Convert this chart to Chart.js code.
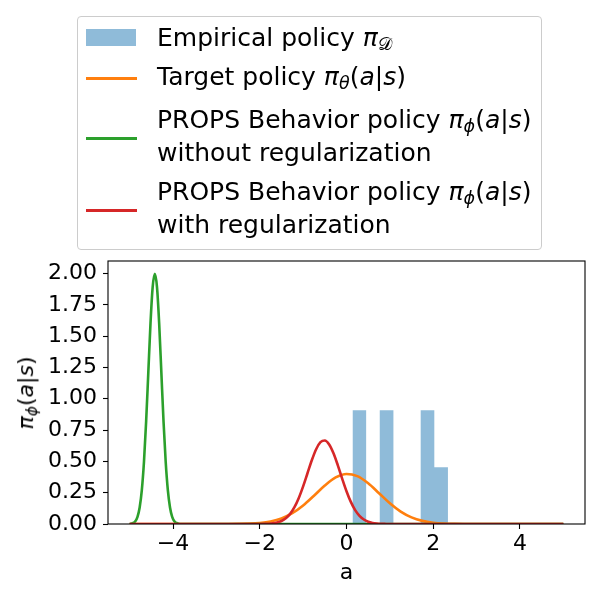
<!DOCTYPE html>
<html>
<head>
<meta charset="utf-8">
<script src="https://cdn.jsdelivr.net/npm/chart.js@4.4.1/dist/chart.umd.min.js"></script>
<style>
html,body{margin:0;padding:0;background:#fff;}
#wrap{position:relative;width:600px;height:600px;font-family:'DejaVu Sans',sans-serif;color:#000;}
#c{position:absolute;left:0;top:0;}
.legbox{position:absolute;left:76.5px;top:15.5px;width:465px;height:234px;border:1px solid #cccccc;border-radius:4px;box-sizing:border-box;background:rgba(255,255,255,0.8);}
.t{position:absolute;left:157px;font-size:25px;line-height:30px;white-space:nowrap;}
.m{font-style:italic;}
.sub{font-size:70%;vertical-align:-0.25em;}
.patch{position:absolute;left:86px;top:29px;width:50px;height:17px;background:#8fbbd9;}
.hl{position:absolute;left:86px;width:51px;height:3px;}
#ytitle{position:absolute;left:29px;top:392.5px;transform:translate(-50%,-50%) rotate(-90deg);font-size:22px;line-height:26px;white-space:nowrap;}
</style>
</head>
<body>
<div id="wrap">
<canvas id="c" width="600" height="600"></canvas>
<div class="legbox"></div>
<div class="patch"></div>
<div class="hl" style="top:76.8px;background:#ff7f0e;"></div>
<div class="hl" style="top:136.8px;background:#2ca02c;"></div>
<div class="hl" style="top:208.8px;background:#d62728;"></div>
<div class="t" style="top:23.0px;">Empirical policy <span class="m">π</span><span class="sub">𝒟</span></div>
<div class="t" style="top:62.4px;">Target policy <span class="m">π</span><span class="sub m">θ</span>(<span class="m">a</span>|<span class="m">s</span>)</div>
<div class="t" style="top:105.0px;">PROPS Behavior policy <span class="m">π</span><span class="sub m">ϕ</span>(<span class="m">a</span>|<span class="m">s</span>)</div>
<div class="t" style="top:138.4px;">without regularization</div>
<div class="t" style="top:177.4px;">PROPS Behavior policy <span class="m">π</span><span class="sub m">ϕ</span>(<span class="m">a</span>|<span class="m">s</span>)</div>
<div class="t" style="top:210.2px;">with regularization</div>
<div id="ytitle"><span class="m">π</span><span class="sub m">ϕ</span>(<span class="m">a</span>|<span class="m">s</span>)</div>
</div>
<script>
// Empirical policy histogram (density): bin edges and bar heights
const histEdges = [0.138, 0.453, 0.767, 1.082, 1.396, 1.711, 2.025, 2.340];
const histDensity = [0.908, 0, 0.908, 0, 0, 0.908, 0.454];

// Target policy curve
const targetX = [-5, -3.5, -3, -2.75, -2.5, -2.25, -2, -1.75, -1.5, -1.25, -1, -0.75, -0.5, -0.25, 0, 0.25, 0.5, 0.75, 1, 1.25, 1.5, 1.75, 2, 2.25, 2.5, 2.75, 3, 3.5, 5];
const targetY = [0, 0, 0.0001, 0.0003, 0.0010, 0.0030, 0.0084, 0.0205, 0.0445, 0.0860, 0.1478, 0.2260, 0.3073, 0.3716, 0.3997, 0.3822, 0.3251, 0.2459, 0.1654, 0.0990, 0.0527, 0.0249, 0.0105, 0.0039, 0.0013, 0.0004, 0.0001, 0, 0];

// PROPS behavior policy without regularization
const noRegX = [-5, -4.97, -4.92, -4.87, -4.82, -4.77, -4.72, -4.67, -4.62, -4.57, -4.52, -4.47, -4.42, -4.37, -4.32, -4.27, -4.22, -4.17, -4.12, -4.07, -4.02, -3.97, -3.92, -3.87, -3.8, 5];
const noRegY = [0, 0.002, 0.008, 0.022, 0.057, 0.132, 0.271, 0.499, 0.822, 1.213, 1.602, 1.892, 1.998, 1.892, 1.602, 1.213, 0.822, 0.499, 0.271, 0.132, 0.057, 0.022, 0.008, 0.002, 0, 0];

// PROPS behavior policy with regularization
const regX = [-5, -2.0, -1.9, -1.8, -1.7, -1.6, -1.5, -1.4, -1.3, -1.2, -1.1, -1.0, -0.9, -0.8, -0.7, -0.6, -0.5, -0.4, -0.3, -0.2, -0.1, 0.0, 0.1, 0.2, 0.3, 0.4, 0.5, 0.6, 0.7, 0.8, 0.9, 1.0, 5];
const regY = [0, 0.0003, 0.0009, 0.0023, 0.0054, 0.0118, 0.0240, 0.0457, 0.0812, 0.1347, 0.2084, 0.3008, 0.4052, 0.5092, 0.5971, 0.6534, 0.6671, 0.6356, 0.5649, 0.4685, 0.3627, 0.2619, 0.1765, 0.1110, 0.0651, 0.0356, 0.0182, 0.0087, 0.0039, 0.0016, 0.0006, 0.0002, 0];

// Tick values
const xTicks = [-4, -2, 0, 2, 4];
const yTicks = [0, 0.25, 0.5, 0.75, 1.0, 1.25, 1.5, 1.75, 2.0];

const pts = (xs, ys) => xs.map((x, i) => ({x: x, y: ys[i]}));
const histPts = histDensity.map((h, i) => ({x: histEdges[i], y: h}));
histPts.push({x: histEdges[histEdges.length - 1], y: 0});

const frame = {
  id: 'frame',
  afterDraw(chart) {
    const a = chart.chartArea, ctx = chart.ctx;
    ctx.save();
    ctx.strokeStyle = '#000';
    ctx.lineWidth = 1.1;
    ctx.strokeRect(a.left, a.top, a.right - a.left, a.bottom - a.top);
    ctx.restore();
  }
};

const tickFont = {family: 'DejaVu Sans', size: 22};
const lineCommon = {showLine: true, pointRadius: 0, borderWidth: 2.6, fill: false, cubicInterpolationMode: 'monotone'};

new Chart(document.getElementById('c'), {
  type: 'scatter',
  data: {
    datasets: [
      Object.assign({label: 'PROPS Behavior policy with regularization', data: pts(regX, regY), borderColor: '#d62728', order: 0}, lineCommon),
      Object.assign({label: 'PROPS Behavior policy without regularization', data: pts(noRegX, noRegY), borderColor: '#2ca02c', order: 1}, lineCommon),
      Object.assign({label: 'Target policy', data: pts(targetX, targetY), borderColor: '#ff7f0e', order: 2}, lineCommon),
      {label: 'Empirical policy', data: histPts, showLine: true, stepped: 'before', pointRadius: 0, borderWidth: 0,
       borderColor: 'rgba(0,0,0,0)', backgroundColor: 'rgba(31,119,180,0.5)', fill: 'origin', order: 3}
    ]
  },
  options: {
    responsive: false,
    animation: false,
    layout: {padding: {top: 261, right: 15, left: 0, bottom: 0}},
    plugins: {legend: {display: false}, tooltip: {enabled: false}},
    scales: {
      x: {
        type: 'linear', min: -5.5, max: 5.5,
        afterBuildTicks: s => { s.ticks = xTicks.map(v => ({value: v})); },
        afterFit: s => { s.height = 76; },
        border: {display: false},
        grid: {drawOnChartArea: false, drawTicks: true, tickLength: 5, tickWidth: 1.1, tickColor: '#000'},
        ticks: {font: tickFont, color: '#000', padding: 2, maxRotation: 0, autoSkip: false,
                callback: v => String(v).replace('-', '\u2212')},
        title: {display: true, text: 'a', font: tickFont, color: '#000', padding: {top: 0, bottom: 14}}
      },
      y: {
        type: 'linear', min: 0, max: 2.1,
        afterBuildTicks: s => { s.ticks = yTicks.map(v => ({value: v})); },
        afterFit: s => { s.width = 108; },
        border: {display: false},
        grid: {drawOnChartArea: false, drawTicks: true, tickLength: 5, tickWidth: 1.1, tickColor: '#000'},
        ticks: {font: tickFont, color: '#000', padding: 6, autoSkip: false,
                callback: v => Number(v).toFixed(2)}
      }
    }
  },
  plugins: [frame]
});
</script>
</body>
</html>
